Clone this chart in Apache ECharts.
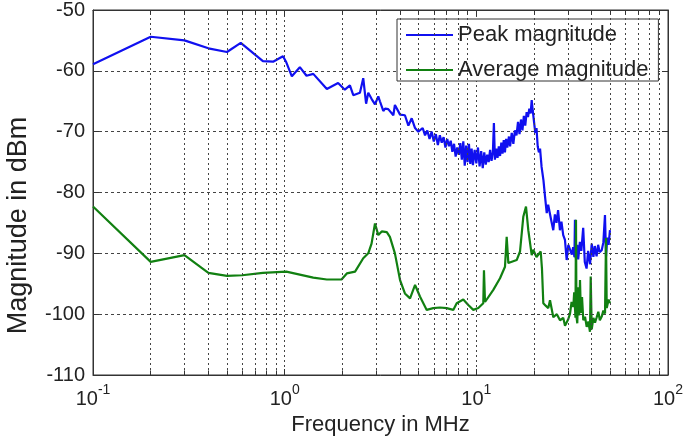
<!DOCTYPE html>
<html>
<head>
<meta charset="utf-8">
<script src="https://cdn.jsdelivr.net/npm/echarts@6.0.0/dist/echarts.min.js"></script>
<style>
  html, body { margin: 0; padding: 0; background: #fff; }
  #chart { width: 700px; height: 438px; }
</style>
</head>
<body>
<div id="chart"></div>
<script>
// Conducted emission spectrum: peak and average detector readings (MHz, dBm)
const peakFreqs = [
  0.1, 0.2, 0.3, 0.4, 0.5, 0.59, 0.77, 0.87, 0.98, 1.02, 1.09, 1.2, 1.3, 1.41, 1.66, 1.9,
  2.06, 2.19, 2.28, 2.47, 2.57, 2.66, 2.73, 2.84, 2.96, 3.08, 3.14, 3.27, 3.34, 3.47, 3.69,
  3.76, 3.84, 4.0, 4.24, 4.42, 4.6, 4.79, 4.98,
  5.08, 5.25, 5.4, 5.55, 5.7, 5.85, 6.0, 6.15, 6.3, 6.45, 6.6, 6.75, 6.9, 7.05, 7.2, 7.35,
  7.5, 7.65, 7.8, 7.95, 8.1, 8.25, 8.4, 8.55, 8.7, 8.85, 9.0, 9.15, 9.3, 9.45, 9.6, 9.8,
  10.0, 10.2, 10.4, 10.6, 10.8, 11.0, 11.2, 11.4, 11.6, 11.8, 12.0, 12.2, 12.35, 12.5, 12.7,
  12.9, 13.1, 13.3, 13.5, 13.7, 13.9, 14.1, 14.3, 14.5, 14.8, 15.0, 15.3, 15.6, 15.9, 16.2,
  16.5, 16.8, 17.1, 17.4, 17.7, 18.0, 18.3, 18.6, 18.9, 19.2, 19.45, 19.7, 20.0, 20.3, 20.6,
  20.9, 21.2, 21.5, 21.9, 22.4, 22.8, 23.3, 23.7, 24.2, 24.6, 25.2, 25.7, 26.2, 26.7, 27.3,
  27.8, 28.4, 29.0, 29.6, 30.2, 30.8, 31.5, 32.0, 32.5, 32.7, 33.0, 33.6, 34.0, 34.7, 35.3,
  36.1, 36.8, 37.6, 38.3, 39.2, 40.0, 40.8, 41.5, 42.4, 43.2, 44.0, 45.1, 46.0, 46.9, 47.5,
  48.2, 49.0, 49.8
];
const peakLevels = [
  -58.9, -54.4, -55.0, -56.3, -56.9, -55.4, -58.4, -58.5, -57.6, -58.6, -60.9, -59.4, -60.8, -60.5, -63.0, -62.0,
  -63.1, -62.4, -64.0, -63.6, -61.2, -65.4, -63.6, -64.6, -65.5, -64.2, -65.0, -66.6, -66.2, -66.3, -67.3,
  -65.6, -65.8, -67.2, -67.3, -69.0, -67.8, -69.4, -70.0,
  -70.3, -69.4, -70.6, -69.8, -71.2, -70.0, -71.6, -70.4, -72.2, -70.6, -71.8, -70.9, -72.6, -71.2, -72.4, -71.5,
  -73.3, -72.0, -74.1, -72.6, -73.8, -71.9, -74.6, -71.6, -75.6, -72.3, -75.0, -72.0, -75.3, -72.8, -75.5, -73.0,
  -75.2, -72.6, -75.7, -73.2, -76.0, -73.4, -75.4, -73.8, -75.0, -73.0, -74.8, -73.4, -68.6, -74.6, -72.8,
  -74.3, -72.4, -74.0, -71.8, -73.6, -71.4, -73.4, -71.2, -72.6, -70.8, -72.4, -70.2, -72.0, -69.8, -70.6,
  -68.4, -70.4, -68.0, -69.8, -67.4, -69.0, -66.8, -67.6, -66.2, -67.0, -64.8, -66.6, -68.4, -70.2, -69.4,
  -72.4, -73.4, -72.8, -75.8, -78.0, -80.5, -83.4, -82.0, -81.8, -84.6, -86.2, -83.6, -85.0, -82.9, -86.2,
  -84.8, -87.0, -87.8, -91.1, -88.6, -88.4, -90.2, -89.0, -90.6, -84.5, -90.8, -88.6, -91.0, -88.1, -89.6,
  -85.8, -91.4, -92.5, -89.6, -91.8, -88.4, -90.6, -88.8, -90.5, -88.6, -89.8, -89.5, -88.2, -83.7, -90.5,
  -87.4, -88.6, -86.2
];

const avgFreqs = [
  0.1, 0.2, 0.3, 0.4, 0.5, 0.6, 0.77, 1.02, 1.41, 1.66, 1.98, 2.11, 2.33, 2.57, 2.73, 2.84,
  2.96, 3.08, 3.21, 3.41, 3.54, 3.76, 4.0, 4.24, 4.51, 4.79, 5.08, 5.51, 5.96, 6.46, 7.0,
  7.58, 7.9, 8.55, 9.08, 9.64, 10.24, 10.87, 10.96, 11.1, 12.26, 13.29, 14.11, 14.4, 14.69,
  14.99, 16.24, 16.9, 17.58, 18.16, 18.67, 19.45, 19.8, 20.24, 20.6, 21.06, 21.67, 22.0,
  22.36, 23.0, 23.74, 24.23, 25.21, 26.3, 27.33, 28.4, 29.02, 29.62, 30.2, 30.82, 31.4,
  32.06, 32.4, 32.9, 33.11, 33.3, 33.63, 34.0, 34.4, 34.74, 35.1, 35.6, 36.15, 36.9, 37.65,
  38.4, 39.17, 39.51, 39.99, 40.8, 41.6, 42.46, 43.3, 44.1, 45.1, 46.0, 46.93, 47.49, 47.9,
  48.24, 49.0, 49.83
];
const avgLevels = [
  -82.3, -91.4, -90.3, -93.2, -93.7, -93.6, -93.2, -93.0, -94.0, -94.3, -94.3, -93.3, -93.0, -90.8, -90.0, -88.4,
  -85.1, -87.0, -86.4, -86.5, -87.3, -90.0, -94.4, -96.6, -97.4, -95.2, -97.1, -99.3, -99.0, -98.9, -99.0,
  -99.3, -98.2, -97.6, -98.5, -99.3, -99.0, -98.2, -92.8, -98.0, -96.0, -94.1, -92.2, -87.3, -91.6,
  -91.4, -91.1, -89.7, -84.0, -82.3, -86.2, -90.3, -89.4, -89.5, -90.6, -90.3, -89.7, -92.5,
  -98.2, -98.6, -99.0, -97.7, -100.5, -100.0, -101.0, -100.6, -101.9, -101.8, -100.8, -99.9, -98.0,
  -98.8, -96.4, -100.6, -84.5, -100.4, -101.5, -95.6, -100.2, -94.4, -99.8, -97.2, -101.0, -100.4, -102.1,
  -101.2, -102.9, -93.8, -102.5, -100.6, -101.4, -100.5, -99.6, -101.0, -100.4, -99.4, -99.9, -87.5, -99.0,
  -99.3, -97.6, -98.2
];

const seriesNames = ['Peak magnitude', 'Average magnitude'];
const freqRange = [0.1, 100];
const levelRange = [-110, -50];
const levelStep = 10;

const zip = (xs, ys) => xs.map((x, i) => [x, ys[i]]);

// Intermediate log-decade positions (2..9 x each decade) for the dotted grid
const minorFreqs = [];
[0.1, 1, 10].forEach(d => {
  for (let m = 2; m <= 9; m++) minorFreqs.push(Number((d * m).toPrecision(3)));
});

const FONT = '"Liberation Sans", Arial, sans-serif';
const INK = '#222';
const FRAME = '#333';
const PEAK_COLOR = '#1010f0';
const AVG_COLOR = '#118011';

const minorGrid = {
  silent: true, symbol: ['none', 'none'], animation: false,
  label: { show: false },
  lineStyle: { type: [2, 3], color: '#444', width: 1 },
  data: minorFreqs.map(f => ({ xAxis: f }))
};
const minorTickLen = 0.75;
const minorTicks = {
  silent: true, symbol: ['none', 'none'], animation: false,
  label: { show: false },
  lineStyle: { type: 'solid', color: FRAME, width: 1 },
  data: minorFreqs.flatMap(f => [
    [{ coord: [f, levelRange[0]] }, { coord: [f, levelRange[0] + minorTickLen] }],
    [{ coord: [f, levelRange[1]] }, { coord: [f, levelRange[1] - minorTickLen] }]
  ])
};

const chart = echarts.init(document.getElementById('chart'), null, { renderer: 'canvas' });
chart.setOption({
  animation: false,
  backgroundColor: '#fff',
  textStyle: { fontFamily: FONT },
  grid: {
    left: 93, right: 32, top: 10, bottom: 63,
    outerBoundsMode: 'none', containLabel: false,
    show: true, borderColor: FRAME, borderWidth: 1, backgroundColor: '#fff'
  },
  legend: {
    data: seriesNames.map((n, i) => ({ name: n, icon: 'rect', itemStyle: { color: i ? AVG_COLOR : PEAK_COLOR } })),
    orient: 'vertical',
    left: 397, top: 19,
    backgroundColor: '#fff',
    borderColor: FRAME, borderWidth: 1, borderRadius: 0,
    padding: [5, 10, 0, 9],
    itemWidth: 47, itemHeight: 2, itemGap: 13,
    textStyle: { fontFamily: FONT, fontSize: 22, color: INK, lineHeight: 20 }
  },
  xAxis: [
    {
      type: 'log', logBase: 10, min: freqRange[0], max: freqRange[1],
      name: 'Frequency in MHz', nameLocation: 'middle', nameGap: 37,
      nameTextStyle: { fontFamily: FONT, fontSize: 22, color: INK },
      axisLine: { lineStyle: { color: FRAME } },
      axisTick: { inside: true, length: 6, lineStyle: { color: FRAME } },
      splitLine: { show: true, lineStyle: { type: [2, 3], color: '#444' } },
      axisLabel: {
        margin: 8,
        formatter: v => '{b|10}{s|' + Math.round(Math.log10(v)) + '}',
        rich: {
          b: { fontFamily: FONT, fontSize: 20, color: INK, lineHeight: 26, verticalAlign: 'bottom' },
          s: { fontFamily: FONT, fontSize: 14, color: INK, lineHeight: 26, verticalAlign: 'top' }
        }
      }
    },
    {
      type: 'log', logBase: 10, min: freqRange[0], max: freqRange[1], position: 'top',
      axisLine: { lineStyle: { color: FRAME } },
      axisTick: { inside: true, length: 6, lineStyle: { color: FRAME } },
      axisLabel: { show: false }, splitLine: { show: false }
    }
  ],
  yAxis: [
    {
      type: 'value', min: levelRange[0], max: levelRange[1], interval: levelStep,
      name: 'Magnitude in dBm', nameLocation: 'middle', nameGap: 61,
      nameTextStyle: { fontFamily: FONT, fontSize: 27, color: INK, padding: [0, 66, 0, 0] },
      axisLine: { show: true, lineStyle: { color: FRAME } },
      axisTick: { show: true, inside: true, length: 6, lineStyle: { color: FRAME } },
      splitLine: { show: true, lineStyle: { type: [3, 3], color: '#444' } },
      axisLabel: { margin: 8, fontFamily: FONT, fontSize: 20, color: INK }
    },
    {
      type: 'value', min: levelRange[0], max: levelRange[1], interval: levelStep, position: 'right',
      axisLine: { show: true, lineStyle: { color: FRAME } },
      axisTick: { show: true, inside: true, length: 6, lineStyle: { color: FRAME } },
      axisLabel: { show: false }, splitLine: { show: false }
    }
  ],
  series: [
    {
      name: seriesNames[0], type: 'line', data: zip(peakFreqs, peakLevels),
      symbol: 'none', showSymbol: false,
      lineStyle: { color: PEAK_COLOR, width: 2.2 }, itemStyle: { color: PEAK_COLOR },
      markLine: minorGrid, z: 2
    },
    {
      name: seriesNames[1], type: 'line', data: zip(avgFreqs, avgLevels),
      symbol: 'none', showSymbol: false,
      lineStyle: { color: AVG_COLOR, width: 2.2 }, itemStyle: { color: AVG_COLOR },
      markLine: minorTicks, z: 3
    }
  ]
});
</script>
</body>
</html>
